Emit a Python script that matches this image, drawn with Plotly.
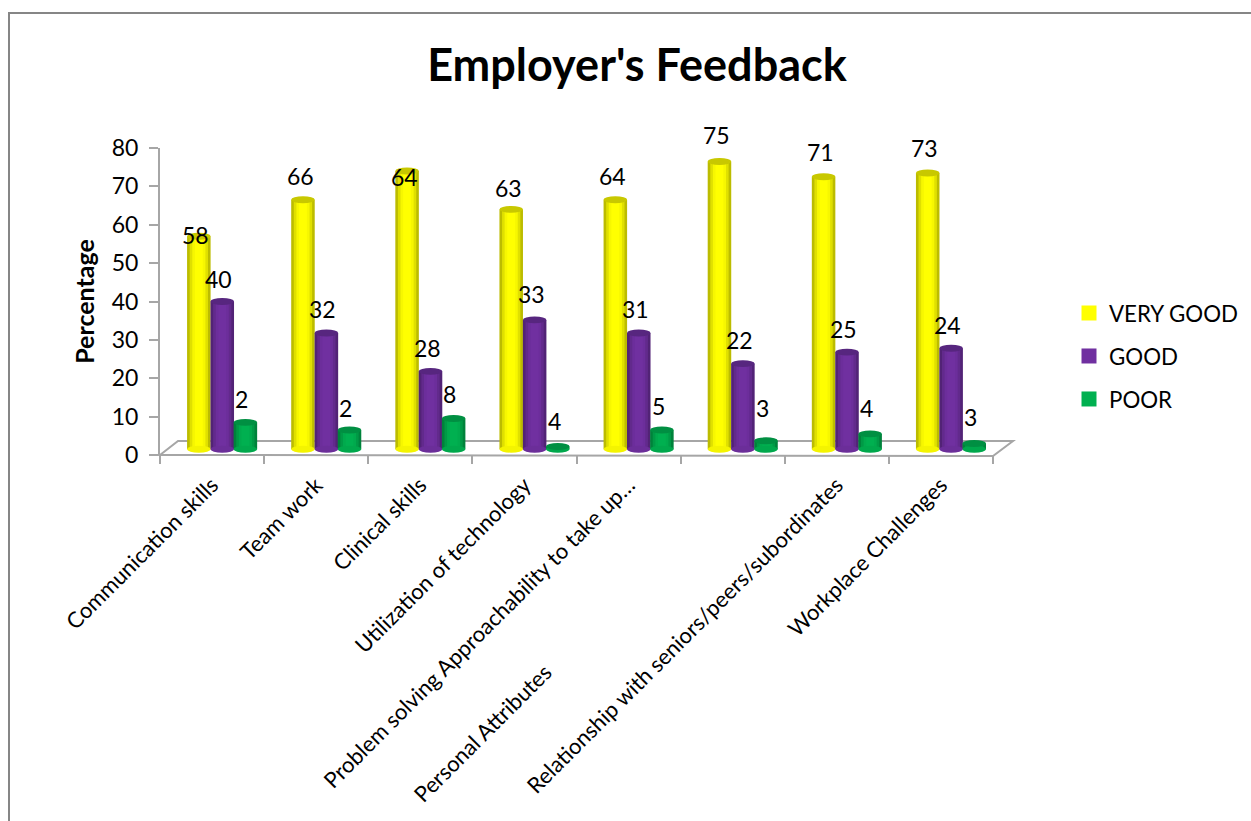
import plotly.graph_objects as go

W, H = 1251, 821
PL, PR, PT, PB = 160, 993, 148, 455

PAD = "\u00a0"
categories = ["Communication skills", "Team work", "Clinical skills", "Utilization of technology",
              "Problem solving Approachability to take up…", "Personal Attributes",
              "Relationship with seniors/peers/subordinates", "Workplace Challenges"]
category_padding = [0, 0, 0, 0, 0, 47, 0, 0]
tick_text = [c + PAD * p for c, p in zip(categories, category_padding)]
series_names = ["VERY GOOD", "GOOD", "POOR"]

# bar heights as read on the value axis
very_good = [57, 66.5, 74, 64, 66.5, 76.5, 72.5, 73.5]
good = [40, 31.8, 21.8, 35.2, 31.8, 23.8, 26.8, 27.8]
poor = [8.5, 6.5, 9.5, 2.2, 6.5, 3.7, 5.5, 3]

# printed data labels
very_good_labels = [58, 66, 64, 63, 64, 75, 71, 73]
good_labels = [40, 32, 28, 33, 31, 22, 25, 24]
poor_labels = [2, 2, 8, 4, 5, 3, 4, 3]

# heights of those labels on the value axis
very_good_label_y = [57.3, 72.6, 72.4, 69.7, 72.6, 83.3, 78.9, 80]
good_label_y = [45.8, 38, 27.9, 41.9, 38, 29.9, 32.8, 33.9]
poor_label_y = [14.6, 12.2, 15.9, 8.9, 12.8, 12.2, 12.2, 9.8]

yticks = [0, 10, 20, 30, 40, 50, 60, 70, 80]
YMAX = 80

BASE = 1.5
ELL_H = 0.9
BAR_W = 0.226
body = ["#FFFF00", "#7030A0", "#00B050"]
top = ["#C8C800", "#57267F", "#008F42"]
offsets = [-0.24, -0.015, 0.207]
label_dx = [-0.155, 0.065, 0.285]
shade = [0.74, 0.88, 0.97, 1]
values = [very_good, good, poor]
labels = [very_good_labels, good_labels, poor_labels]
label_y = [very_good_label_y, good_label_y, poor_label_y]


def darker(hex_c, f):
    r, g, b = [int(hex_c[i:i + 2], 16) for i in (1, 3, 5)]
    return f"rgb({int(r * f)},{int(g * f)},{int(b * f)})"


def px(x):
    return (x - PL) / (PR - PL)


def py(y):
    return (PB - y) / (PB - PT)


fig = go.Figure()
STEP = BAR_W / 9
for s, vals in enumerate(values):
    for k, f in enumerate(shade):
        fig.add_bar(x=categories, y=[v - BASE for v in vals], base=BASE,
                    offset=offsets[s] + k * STEP, width=BAR_W - 2 * k * STEP,
                    marker=dict(color=darker(body[s], f), line=dict(width=0)),
                    showlegend=False, hoverinfo="skip")

for s, name in enumerate(series_names):
    fig.add_scatter(x=[None], y=[None], mode="markers", name=name, legendgroup=name,
                    marker=dict(symbol="square", size=15, color=body[s]))

shapes = []
# frame of the picture
shapes.append(dict(type="path", xref="paper", yref="paper", layer="below",
                   path=f"M{px(9)},{py(821)} L{px(9)},{py(13)} L{px(1251)},{py(13)}",
                   line=dict(color="#868686", width=2)))
# floor of the 3-D box
shapes.append(dict(type="path", xref="paper", yref="paper", layer="below",
                   path=f"M{px(160)},{py(455)} L{px(178)},{py(441)} L{px(1013)},{py(441)} L{px(993)},{py(456)} Z",
                   line=dict(color="#A6A6A6", width=2)))
for s, vals in enumerate(values):
    for i, v in enumerate(vals):
        x0 = i + offsets[s]
        x1 = x0 + BAR_W
        shapes.append(dict(type="circle", xref="x", yref="y", x0=x0, x1=x1, y0=BASE - ELL_H, y1=BASE + ELL_H,
                           fillcolor=darker(body[s], 0.96), line=dict(width=0), layer="above"))
        shapes.append(dict(type="circle", xref="x", yref="y", x0=x0, x1=x1, y0=v - ELL_H, y1=v + ELL_H,
                           fillcolor=top[s], line=dict(width=0), layer="above"))

annotations = []
for s in range(3):
    for i in range(len(categories)):
        annotations.append(dict(x=i + label_dx[s], y=label_y[s][i] / YMAX, xref="x", yref="y domain",
                                text=str(labels[s][i]), showarrow=False,
                                font=dict(family="Lato", size=23, color="#000000"),
                                xanchor="center", yanchor="middle"))

fig.update_layout(
    width=W, height=H, barmode="overlay", paper_bgcolor="white", plot_bgcolor="rgba(0,0,0,0)",
    margin=dict(l=PL, r=W - PR, t=PT, b=H - PB, autoexpand=False),
    font=dict(family="Lato", color="#000000"),
    title=dict(text="<b>Employer's Feedback</b>", x=637 / W, xanchor="center", y=1 - 65 / H, yanchor="middle",
               font=dict(family="Lato", size=45, color="#000000")),
    xaxis=dict(type="category", categoryorder="array", categoryarray=categories, range=[-0.5, 7.5],
               tickmode="array", tickvals=categories, ticktext=tick_text, tickson="boundaries",
               tickangle=-45, tickfont=dict(family="Lato", size=22), ticks="outside", ticklen=8, tickwidth=2,
               tickcolor="#A6A6A6", showline=False, showgrid=False, zeroline=False, automargin=False,
               ticklabelstandoff=12),
    yaxis=dict(range=[0, YMAX], tickvals=yticks, tickfont=dict(family="Lato", size=23), ticks="outside",
               ticklen=9, tickwidth=2, tickcolor="#A6A6A6", showline=True, linecolor="#A6A6A6", linewidth=2,
               showgrid=False, zeroline=False, automargin=False, ticklabelstandoff=6,
               title=dict(text="<b>Percentage</b>", font=dict(family="Lato", size=25), standoff=10)),
    legend=dict(x=px(1069), y=py(292), xanchor="left", yanchor="top", font=dict(family="Lato", size=22.3),
                tracegroupgap=11, itemsizing="trace", bgcolor="rgba(0,0,0,0)", traceorder="grouped"),
    shapes=shapes, annotations=annotations,
)

fig.write_html("out.html", config={"displayModeBar": False}, post_script="document.body.style.margin='0';")
